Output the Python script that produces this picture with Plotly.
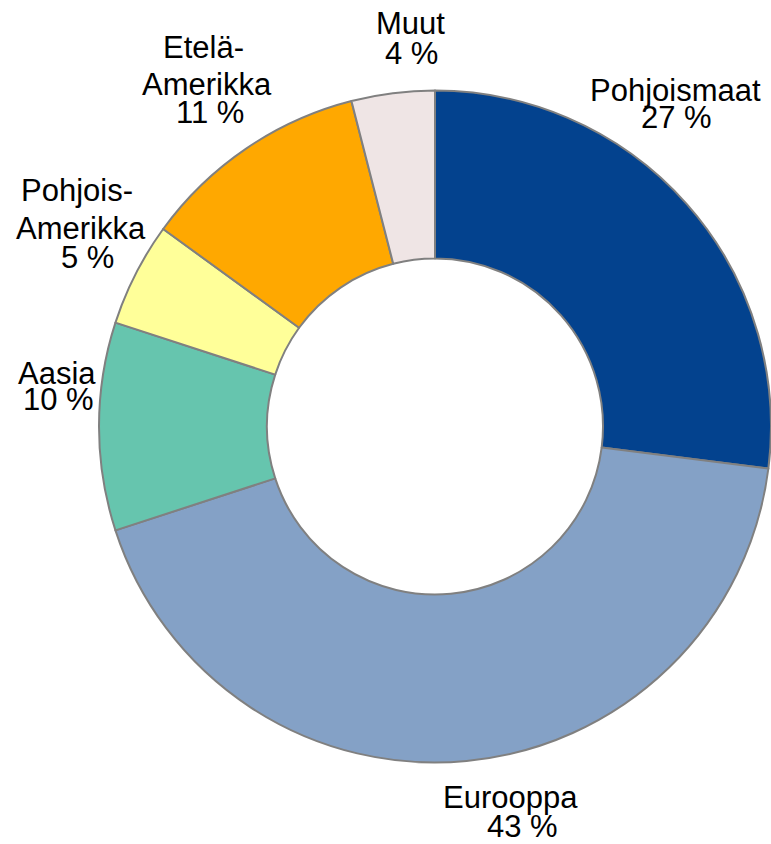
import plotly.graph_objects as go

# ---- data ----
labels = ["Pohjoismaat", "Eurooppa", "Aasia", "Pohjois-Amerikka", "Etelä-Amerikka", "Muut"]
values = [27, 43, 10, 5, 11, 4]
colors = ["#03428E", "#84A1C6", "#66C5AE", "#FFFF99", "#FFA800", "#EFE5E5"]

W, H = 771, 844

# label line anchor positions (pixel centres of each text line), per slice
label_line_pos = [
    [(675, 90), (676, 117.5)],
    [(510, 797.5), (522, 826)],
    [(57, 373), (58, 399)],
    [(77, 190), (81, 228), (87, 257.5)],
    [(203, 47.5), (207, 84), (210, 112.5)],
    [(410, 23), (411, 54)],
]

# donut placement in pixels (right side reaches the figure edge)
CX, CY, R = 436.5, 426.5, 337.5


def label_lines(name, val):
    parts = name.split("-")
    lines = [p + "-" for p in parts[:-1]] + [parts[-1]]
    return lines + [f"{val} %"]


def fx(px):
    return px / W


def fy(py):
    return 1 - py / H


x0 = fx(CX - R)
fig = go.Figure(
    go.Pie(
        labels=labels,
        values=values,
        hole=0.5,
        sort=False,
        direction="clockwise",
        rotation=0,
        marker=dict(colors=colors, line=dict(color="#808080", width=2)),
        textinfo="none",
        hoverinfo="label+percent",
        showlegend=False,
        domain=dict(x=[x0, 1.0], y=[fy(CY + R), fy(CY - R)]),
    )
)

annotations = []
for name, val, pos in zip(labels, values, label_line_pos):
    for text, (px, py) in zip(label_lines(name, val), pos):
        annotations.append(
            dict(
                text=text,
                x=fx(px),
                y=fy(py),
                xref="paper",
                yref="paper",
                xanchor="center",
                yanchor="middle",
                showarrow=False,
                font=dict(family="Liberation Sans, Arial, sans-serif", size=31, color="#000000"),
            )
        )

fig.update_layout(
    width=W,
    height=H,
    autosize=False,
    margin=dict(l=0, r=0, t=0, b=0),
    paper_bgcolor="white",
    plot_bgcolor="white",
    annotations=annotations,
)

fig.write_html(
    "out.html",
    config={"displayModeBar": False},
    post_script="document.body.style.margin='0';document.body.style.overflow='hidden';",
)
